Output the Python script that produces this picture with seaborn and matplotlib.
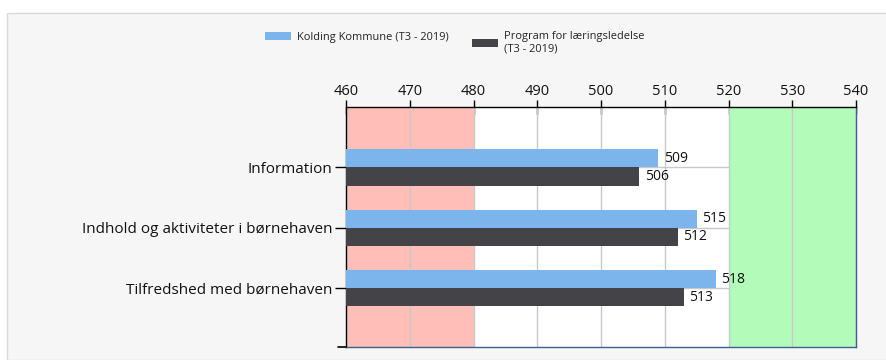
import matplotlib
matplotlib.use("Agg")
import matplotlib.pyplot as plt
from matplotlib.patches import Rectangle
import pandas as pd
import seaborn as sns

categories = ["Information", "Indhold og aktiviteter i børnehaven", "Tilfredshed med børnehaven"]
series_names = ["Kolding Kommune (T3 - 2019)", "Program for læringsledelse\n(T3 - 2019)"]
kolding = [509, 515, 518]
program = [506, 512, 513]
x_ticks = [460, 470, 480, 490, 500, 510, 520, 530, 540]
colors = ["#7cb5ec", "#434348"]

sns.set_theme(style="white")
plt.rcParams["font.family"] = ["Open Sans", "DejaVu Sans"]

df = pd.DataFrame({
    "Område": categories * 2,
    "Score": kolding + program,
    "Serie": [series_names[0]] * 3 + [series_names[1]] * 3,
})

W, H = 887, 360
fig = plt.figure(figsize=(W / 100, H / 100), dpi=100)
fig.patch.set_facecolor("white")
# light grey panel behind the chart
fig.add_artist(Rectangle((7 / W, 0), 1, 1 - 13 / H, transform=fig.transFigure,
                         facecolor="#f6f6f6", edgecolor="#d9d9d9", linewidth=1, zorder=0))

ax = fig.add_axes([346 / W, 13 / H, 510 / W, 240 / H])
ax.set_facecolor("white")

sns.barplot(data=df, y="Område", x="Score", hue="Serie", orient="h",
            palette=colors, width=0.6, ax=ax, zorder=3, saturation=1,
            edgecolor="none", linewidth=0)

ax.set_xlim(460, 540)
ax.set_ylim(2.97, -1.0)

# red and green zones
ax.axvspan(460, 480, color="#ffbfb8", zorder=1, linewidth=0)
ax.axvspan(520, 540, color="#b3fbb8", zorder=1, linewidth=0)
for yv in range(len(categories)):
    ax.axhline(yv, color="#c8c8c8", linewidth=1, zorder=0.5)
for xv in x_ticks:
    ax.axvline(xv, color="#c8c8c8", linewidth=1, zorder=1.5)

ax.xaxis.tick_top()
ax.set_xticks(x_ticks)
ax.set_xticklabels([str(v) for v in x_ticks], fontsize=10.5, color="#111111")
ax.tick_params(axis="x", top=True, bottom=False, direction="inout", length=10,
               width=1, color="black", pad=1)
ax.tick_params(axis="y", left=True, direction="out", length=8, width=1,
               color="black", labelsize=11, labelcolor="#111111", pad=2)
ax.set_xlabel("")
ax.set_ylabel("")
# small closing tick at the lower end of the category axis
ax.plot([-8 / 510, 0], [0, 0], transform=ax.transAxes, clip_on=False,
        color="black", linewidth=1.2, zorder=5)

for s in ["top", "left"]:
    ax.spines[s].set_color("black")
    ax.spines[s].set_linewidth(1)
for s in ["right", "bottom"]:
    ax.spines[s].set_color("#3e5f8f")
    ax.spines[s].set_linewidth(1)

for cont in ax.containers:
    ax.bar_label(cont, fmt="%d", padding=4, fontsize=10, color="#111111")

# legend: one entry per block, each aligned to the top
handles, labels = ax.get_legend_handles_labels()
ax.legend_.remove()
leg_kw = dict(frameon=False, fontsize=7.9, handlelength=2.4, handleheight=0.8,
              handletextpad=0.5, borderpad=0, borderaxespad=0,
              bbox_transform=fig.transFigure)
leg1 = fig.legend([handles[0]], [labels[0]], loc="upper left",
                  bbox_to_anchor=(265 / W, 1 - 32 / H), **leg_kw)
leg2 = fig.legend([handles[1]], [labels[1]], loc="upper left",
                  bbox_to_anchor=(472 / W, 1 - 31 / H), **leg_kw)
for lg in (leg1, leg2):
    for t in lg.get_texts():
        t.set_color("#222222")

fig.savefig("out.png", dpi=100)
